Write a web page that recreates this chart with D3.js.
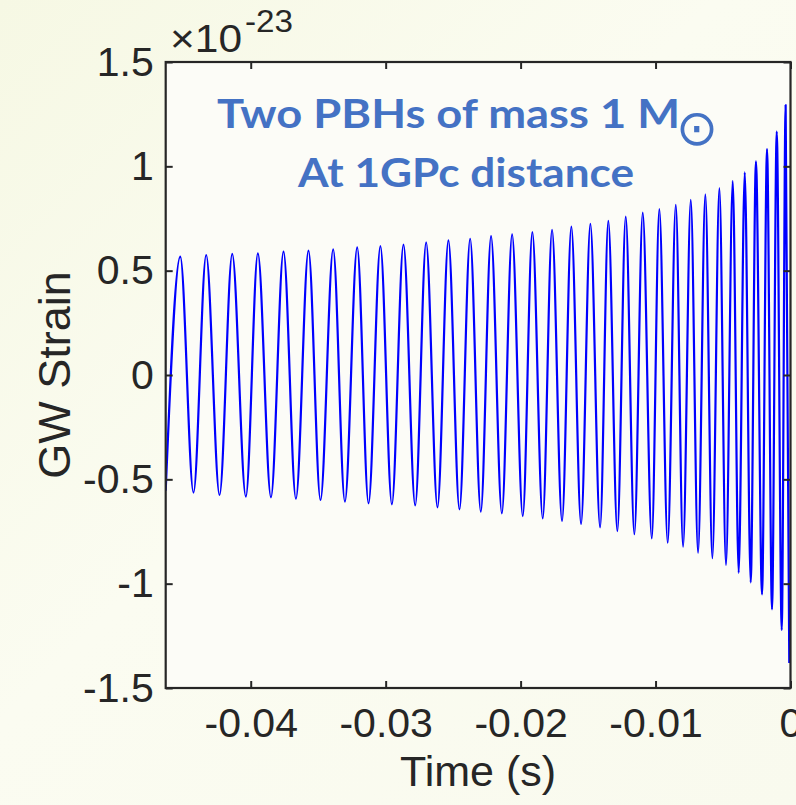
<!DOCTYPE html>
<html>
<head>
<meta charset="utf-8">
<script src="https://cdn.jsdelivr.net/npm/d3@7"></script>
<style>
  html, body { margin: 0; padding: 0; background: #f8fae8; }
  svg { display: block; }
</style>
</head>
<body>
<svg id="chart" width="796" height="805"></svg>
<script>
// ---- data (time in s, strain in units of 1e-23) ----
const peakTimes = [-0.04522, -0.04330, -0.04137, -0.03947, -0.03757, -0.03572, -0.03389, -0.03211,
  -0.03039, -0.02868, -0.02700, -0.02535, -0.02374, -0.02219, -0.02063, -0.01913, -0.01767,
  -0.01624, -0.01483, -0.01350, -0.01221, -0.01095, -0.00972, -0.00850, -0.00739, -0.00631,
  -0.00527, -0.00428, -0.00339, -0.00256, -0.00174, -0.00102, -0.00036];
const peakValues = [0.567, 0.575, 0.580, 0.583, 0.591, 0.596, 0.602, 0.612, 0.618, 0.625, 0.636,
  0.645, 0.653, 0.666, 0.674, 0.685, 0.696, 0.711, 0.724, 0.739, 0.759, 0.778, 0.795, 0.816,
  0.839, 0.866, 0.896, 0.931, 0.971, 1.024, 1.083, 1.166, 1.294];
const troughTimes = [-0.04424, -0.04231, -0.04036, -0.03850, -0.03665, -0.03483, -0.03302, -0.03127,
  -0.02954, -0.02781, -0.02616, -0.02453, -0.02295, -0.02139, -0.01984, -0.01836, -0.01693,
  -0.01552, -0.01411, -0.01283, -0.01157, -0.01028, -0.00910, -0.00796, -0.00685, -0.00579,
  -0.00478, -0.00384, -0.00295, -0.00211, -0.00137, -0.00065, -0.00009];
const troughValues = [-0.564, -0.575, -0.583, -0.586, -0.593, -0.599, -0.607, -0.615, -0.620,
  -0.625, -0.634, -0.644, -0.655, -0.663, -0.676, -0.687, -0.700, -0.714, -0.730, -0.748,
  -0.763, -0.783, -0.804, -0.823, -0.852, -0.878, -0.911, -0.948, -0.994, -1.051, -1.123,
  -1.222, -1.380];
const startTime = -0.0463, startValue = -0.555;

const xDomain = [-0.0463, 0];
const yDomain = [-1.5, 1.5];
const xTicks = [-0.04, -0.03, -0.02, -0.01, 0];
const xTickLabels = ["-0.04", "-0.03", "-0.02", "-0.01", "0"];
const yTicks = [-1.5, -1, -0.5, 0, 0.5, 1, 1.5];
const yTickLabels = ["-1.5", "-1", "-0.5", "0", "0.5", "1", "1.5"];
const xLabel = "Time (s)";
const yLabel = "GW Strain";
const expBase = "\u00d710";
const expPower = "-23";
const titleLine1 = "Two PBHs of mass 1 M";
const titleSymbol = "\u2299";
const titleLine2 = "At 1GPc distance";

// ---- layout ----
const L = 165.7, R = 790.5, T = 62, B = 688;
const axisColor = "#262626";
const font = "'Liberation Sans', Arial, Helvetica, sans-serif";

const svg = d3.select("#chart");
const defs = svg.append("defs");
const bg = defs.append("linearGradient").attr("id", "bg")
  .attr("x1", "0").attr("y1", "0").attr("x2", "1").attr("y2", "1");
bg.append("stop").attr("offset", "0").attr("stop-color", "#f6f8e4");
bg.append("stop").attr("offset", "0.45").attr("stop-color", "#fbfcf1");
bg.append("stop").attr("offset", "1").attr("stop-color", "#f9faee");
svg.append("rect").attr("width", 796).attr("height", 805).attr("fill", "url(#bg)");

defs.append("clipPath").attr("id", "clip").append("rect")
  .attr("x", L).attr("y", T).attr("width", R - L).attr("height", B - T);

svg.append("rect").attr("x", L).attr("y", T).attr("width", R - L).attr("height", B - T)
  .attr("fill", "#fcfcf7");

const x = d3.scaleLinear().domain(xDomain).range([L, R]);
const y = d3.scaleLinear().domain(yDomain).range([B, T]);

// waveform: merge extrema in time order
const pts = [{t: startTime, v: startValue}];
peakTimes.forEach((t, i) => pts.push({t, v: peakValues[i]}));
troughTimes.forEach((t, i) => pts.push({t, v: troughValues[i]}));
pts.sort((a, b) => a.t - b.t);

const line = d3.line().x(d => x(d.t)).y(d => y(d.v)).curve(d3.curveMonotoneX);
svg.append("path").datum(pts)
  .attr("clip-path", "url(#clip)")
  .attr("d", line)
  .attr("fill", "none")
  .attr("stroke", "#0000ff")
  .attr("stroke-width", 2.2)
  .attr("stroke-linejoin", "round");

// axes (MATLAB box style with inward ticks)
const tickLen = 7;
function styleAxis(g) {
  g.select(".domain").remove();
  g.selectAll(".tick line").attr("stroke", axisColor).attr("stroke-width", 2);
}
svg.append("g").attr("transform", `translate(0,${B})`)
  .call(d3.axisBottom(x).tickValues(xTicks).tickSize(-tickLen).tickFormat((d, i) => xTickLabels[i]).tickPadding(20))
  .call(styleAxis)
  .call(g => g.selectAll(".tick text").attr("fill", axisColor).style("font-family", font).style("font-size", "41px"));
svg.append("g").attr("transform", `translate(0,${T})`)
  .call(d3.axisTop(x).tickValues(xTicks).tickSize(-tickLen).tickFormat(""))
  .call(styleAxis);
svg.append("g").attr("transform", `translate(${L},0)`)
  .call(d3.axisLeft(y).tickValues(yTicks).tickSize(-tickLen).tickFormat(d => yTickLabels[yTicks.indexOf(d)]).tickPadding(12))
  .call(styleAxis)
  .call(g => g.selectAll(".tick text").attr("fill", axisColor).style("font-family", font).style("font-size", "41px"));
svg.append("g").attr("transform", `translate(${R},0)`)
  .call(d3.axisRight(y).tickValues(yTicks).tickSize(-tickLen).tickFormat(""))
  .call(styleAxis);

svg.append("rect").attr("x", L).attr("y", T).attr("width", R - L).attr("height", B - T)
  .attr("fill", "none").attr("stroke", axisColor).attr("stroke-width", 2.2);

// exponent
svg.append("text").attr("x", 170).attr("y", 52)
  .attr("fill", axisColor).style("font-family", font).style("font-size", "39px")
  .attr("textLength", 72).attr("lengthAdjust", "spacingAndGlyphs").text(expBase);
svg.append("text").attr("x", 245).attr("y", 32)
  .attr("fill", axisColor).style("font-family", font).style("font-size", "31px")
  .attr("textLength", 48).attr("lengthAdjust", "spacingAndGlyphs").text(expPower);

// axis labels
svg.append("text").attr("x", (L + R) / 2).attr("y", 786).attr("text-anchor", "middle")
  .attr("fill", axisColor).style("font-family", font).style("font-size", "43px").text(xLabel);
svg.append("text").attr("transform", `translate(70,375) rotate(-90)`).attr("text-anchor", "middle")
  .attr("fill", axisColor).style("font-family", font).style("font-size", "45px").text(yLabel);

// annotation
const blue = "#4472c4";
const tFont = "Lato, 'Open Sans', sans-serif";
svg.append("text").attr("x", 217).attr("y", 128)
  .attr("fill", blue).style("font-family", tFont).style("font-weight", "bold").style("font-size", "41px")
  .attr("textLength", 463).attr("lengthAdjust", "spacingAndGlyphs").text(titleLine1);
svg.append("text").attr("x", 697).attr("y", 128).attr("text-anchor", "middle")
  .attr("dominant-baseline", "central")
  .attr("fill", blue).style("font-family", "'DejaVu Sans', sans-serif").style("font-size", "50px").text(titleSymbol);
svg.append("text").attr("x", 298).attr("y", 187)
  .attr("fill", blue).style("font-family", tFont).style("font-weight", "bold").style("font-size", "41px")
  .attr("textLength", 336).attr("lengthAdjust", "spacingAndGlyphs").text(titleLine2);
</script>
</body>
</html>
